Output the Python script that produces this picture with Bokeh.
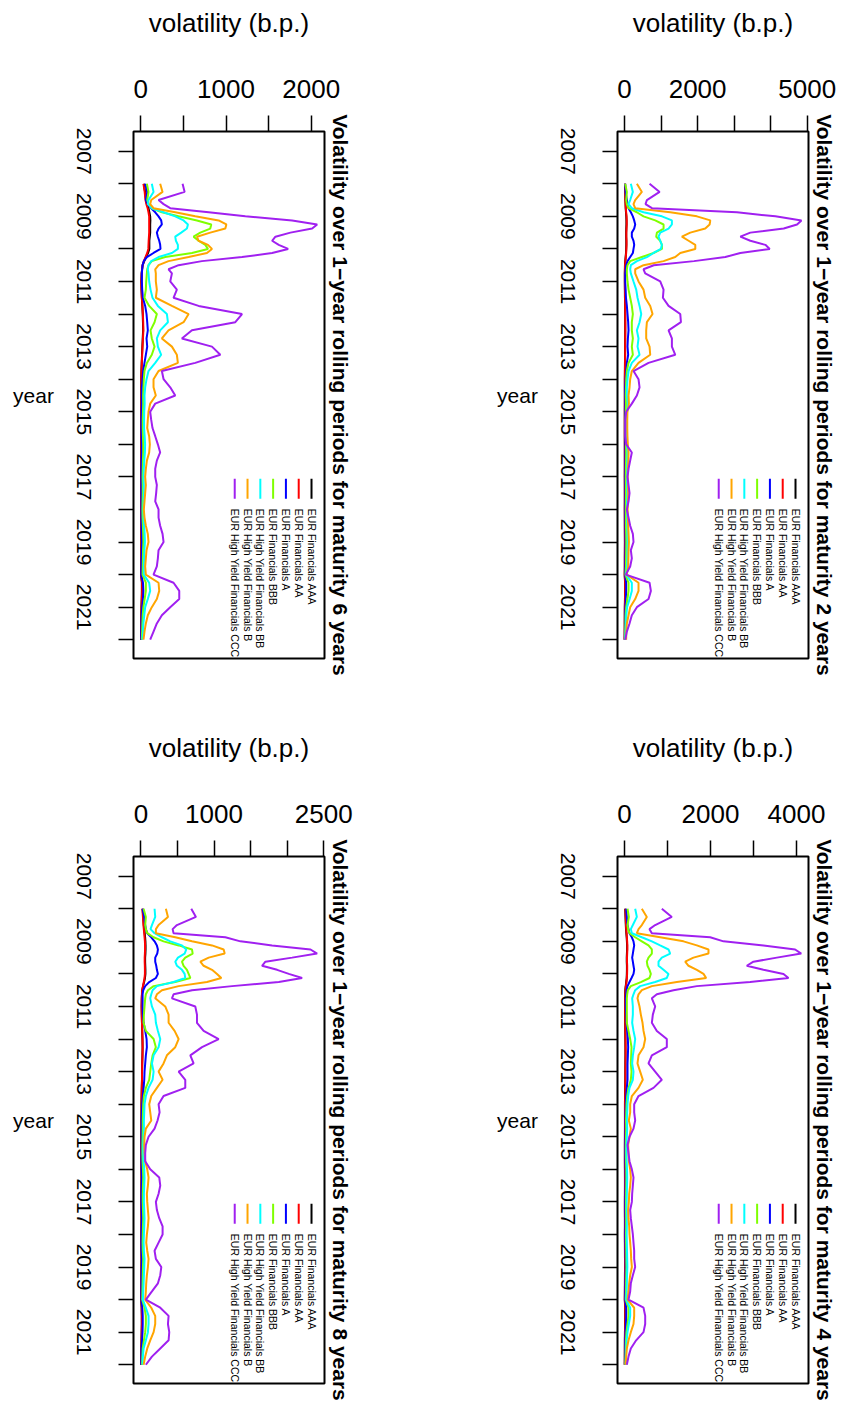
import math
from bokeh.plotting import figure
from bokeh.models import FixedTicker, Range1d
from bokeh.layouts import column, row
from bokeh.embed import file_html
from bokeh.resources import INLINE
from bokeh.core.properties import value

FONT = "Liberation Sans"

series_names = ["EUR Financials AAA", "EUR Financials AA", "EUR Financials A",
                "EUR Financials BBB", "EUR High Yield Financials BB",
                "EUR High Yield Financials B", "EUR High Yield Financials CCC"]
colors = ["#000000", "#FF0000", "#0000FF", "#7FFF00", "#00FFFF", "#FFA500", "#A020F0"]

year_ticks = [2007, 2008, 2009, 2010, 2011, 2012, 2013, 2014, 2015, 2016, 2017, 2018, 2019, 2020, 2021, 2022]
year_labels = ["2007", "", "2009", "", "2011", "", "2013", "", "2015", "", "2017", "", "2019", "", "2021", ""]

dates = [2008.0, 2008.25, 2008.5,
         2008.625, 2008.75, 2008.875, 2009.0, 2009.125, 2009.25, 2009.375, 2009.5, 2009.625,
         2009.75, 2009.875, 2010.0, 2010.125, 2010.25, 2010.375, 2010.5, 2010.625, 2010.75,
         2011.0, 2011.25, 2011.5, 2011.75, 2012.0, 2012.25, 2012.5, 2012.75, 2013.0, 2013.25,
         2013.5, 2013.75, 2014.0, 2014.25, 2014.5,
         2014.75, 2015.0, 2015.25, 2015.5, 2015.75, 2016.0, 2016.25, 2016.5, 2016.75, 2017.0,
         2017.25, 2017.5, 2017.75, 2018.0, 2018.25, 2018.5, 2018.75, 2019.0, 2019.25, 2019.5,
         2019.75, 2020.0, 2020.25, 2020.5, 2020.75, 2021.0, 2021.25, 2021.5, 2021.75, 2022.0]

# ---- maturity 2 years ----
m2_aaa = [12, 18, 22, 28, 32, 40, 48, 52, 52, 48, 45, 45, 48, 48, 45, 40, 30, 20, 12, 10, 8, 8, 10, 12, 15, 17, 18, 18, 17, 15, 15, 12, 10, 8, 8, 8,
          8, 7, 7, 7, 7, 8, 8, 8, 8, 7, 8, 8, 8, 7, 8, 8, 9, 10, 9, 8, 8, 5, 15, 15, 12, 8, 7, 6, 5, 4]
m2_aa = [15, 20, 25, 30, 35, 45, 55, 60, 60, 55, 50, 50, 55, 55, 50, 45, 35, 25, 15, 12, 10, 10, 12, 15, 18, 20, 22, 22, 20, 18, 18, 15, 12, 10, 10, 10,
         10, 9, 8, 8, 8, 9, 10, 10, 9, 8, 9, 10, 9, 8, 9, 10, 11, 12, 11, 10, 9, 6, 18, 18, 15, 10, 8, 7, 6, 5]
m2_a = [18, 30, 64, 82, 110, 173, 228, 265, 292, 265, 200, 200, 246, 265, 246, 228, 155, 82, 46, 30, 20, 18, 30, 40, 64, 82, 100, 110, 92, 82, 100, 64, 46, 30, 20, 20,
        22, 20, 18, 18, 20, 22, 25, 24, 22, 20, 22, 24, 22, 20, 22, 24, 26, 28, 26, 24, 22, 15, 45, 45, 35, 25, 18, 15, 12, 10]
m2_bbb = [18, 64, 46, 64, 110, 338, 520, 840, 1068, 1068, 886, 867, 977, 1023, 1023, 794, 475, 155, 82, 64, 64, 82, 110, 155, 200, 228, 200, 200, 228, 200, 228, 110, 64, 46, 40, 35,
          40, 35, 30, 30, 35, 40, 45, 42, 38, 35, 38, 40, 38, 35, 38, 40, 45, 48, 45, 42, 40, 25, 110, 110, 80, 45, 30, 25, 20, 15]
m2_bb = [173, 228, 155, 110, 200, 520, 1023, 1296, 1296, 1205, 977, 931, 977, 1023, 995, 794, 612, 338, 173, 155, 173, 246, 320, 356, 411, 457, 411, 338, 383, 356, 411, 200, 110, 82, 64, 64,
         90, 70, 60, 60, 65, 70, 80, 75, 70, 65, 70, 75, 70, 65, 70, 75, 80, 85, 80, 75, 70, 45, 200, 200, 140, 70, 50, 40, 30, 25]
m2_b = [338, 475, 292, 246, 292, 1251, 1981, 2346, 2328, 2209, 1799, 1570, 1753, 1936, 1936, 1525, 1388, 1068, 520, 292, 292, 383, 520, 566, 703, 767, 612, 593, 593, 685, 703, 383, 200, 155, 137, 110,
        120, 80, 75, 75, 80, 90, 110, 105, 90, 85, 95, 100, 95, 85, 90, 100, 110, 120, 110, 105, 100, 60, 383, 383, 292, 155, 110, 64, 48, 45]
m2_ccc = [685, 960, 612, 575, 750, 3077, 4127, 4840, 4720, 4355, 3442, 3168, 3442, 3853, 3972, 3168, 2757, 1900, 800, 520, 566, 977, 1068, 1050, 1205, 1525, 1543, 1205, 1296, 1296, 1388, 657, 246, 383, 411, 338,
          200, 46, 20, 20, 20, 46, 200, 155, 110, 82, 110, 137, 110, 64, 110, 155, 228, 246, 173, 200, 155, 36, 685, 721, 657, 338, 200, 137, 64, 20]

# ---- maturity 4 years ----
m4_aaa = [16, 23, 30, 35, 42, 50, 56, 60, 60, 56, 52, 52, 56, 56, 54, 50, 40, 28, 18, 15, 12, 11, 12, 14, 17, 19, 21, 21, 19, 18, 18, 15, 12, 10, 10, 10,
          10, 9, 8, 8, 8, 9, 10, 10, 9, 8, 8, 9, 9, 8, 9, 10, 11, 12, 10, 9, 8, 6, 16, 16, 14, 10, 8, 7, 6, 5]
m4_aa = [20, 28, 35, 40, 48, 55, 62, 66, 66, 62, 58, 58, 62, 62, 60, 55, 45, 32, 22, 18, 15, 14, 15, 17, 20, 23, 25, 25, 23, 21, 21, 18, 15, 13, 12, 12,
         12, 11, 10, 10, 10, 11, 12, 12, 11, 10, 10, 11, 11, 10, 11, 12, 13, 14, 12, 11, 10, 8, 20, 20, 17, 12, 10, 9, 8, 7]
m4_a = [39, 54, 70, 93, 116, 171, 209, 225, 209, 194, 178, 194, 209, 225, 209, 163, 116, 70, 47, 39, 31, 31, 39, 47, 62, 78, 85, 78, 70, 70, 70, 54, 39, 31, 23, 23,
        23, 21, 19, 19, 21, 23, 25, 23, 21, 19, 19, 21, 21, 19, 21, 23, 25, 27, 23, 21, 19, 14, 40, 40, 33, 23, 18, 15, 12, 10]
m4_bbb = [70, 101, 70, 85, 116, 248, 403, 558, 636, 636, 558, 519, 535, 581, 612, 581, 380, 147, 78, 62, 54, 54, 54, 54, 93, 132, 163, 155, 147, 163, 147, 93, 62, 47, 40, 35,
          38, 35, 31, 31, 35, 40, 42, 40, 37, 35, 35, 37, 37, 35, 37, 40, 42, 45, 40, 37, 35, 28, 93, 93, 70, 45, 33, 28, 24, 20]
m4_bb = [248, 287, 194, 147, 171, 403, 636, 829, 1023, 1062, 868, 791, 791, 907, 1023, 984, 713, 364, 248, 209, 178, 194, 194, 178, 209, 248, 225, 194, 178, 209, 194, 116, 85, 70, 62, 54,
         62, 54, 47, 47, 50, 58, 62, 58, 54, 50, 50, 54, 54, 50, 54, 58, 62, 66, 58, 54, 50, 40, 132, 132, 101, 70, 50, 40, 33, 28]
m4_b = [403, 519, 403, 326, 287, 829, 1372, 1682, 1953, 1953, 1604, 1411, 1488, 1682, 1837, 1899, 1217, 636, 403, 326, 302, 349, 380, 419, 442, 481, 442, 326, 302, 364, 426, 326, 171, 132, 132, 101,
        147, 116, 85, 93, 101, 132, 147, 132, 109, 101, 85, 93, 109, 116, 132, 147, 155, 171, 132, 109, 93, 70, 225, 225, 209, 147, 93, 54, 39, 23]
m4_ccc = [868, 1100, 713, 581, 636, 1992, 2302, 3232, 3968, 4110, 3542, 2999, 2844, 3232, 3697, 3813, 2922, 1682, 1139, 752, 636, 713, 659, 636, 752, 984, 984, 636, 558, 713, 868, 674, 326, 225, 225, 248,
          209, 116, 70, 93, 116, 171, 209, 194, 178, 171, 132, 147, 171, 194, 209, 225, 225, 248, 194, 147, 132, 93, 442, 481, 481, 442, 271, 147, 93, 54]

# ---- maturity 6 years ----
m6_aaa = [35, 50, 60, 72, 90, 100, 110, 112, 110, 110, 110, 105, 100, 100, 100, 85, 60, 40, 22, 15, 10, 6, 8, 12, 18, 22, 25, 27, 22, 18, 14, 10, 7, 5, 5, 5,
          5, 4, 4, 4, 4, 5, 5, 5, 4, 4, 4, 4, 4, 4, 4, 5, 5, 6, 5, 5, 4, 3, 12, 12, 10, 7, 5, 4, 3, 3]
m6_aa = [31, 45, 55, 65, 80, 90, 98, 98, 98, 98, 98, 95, 92, 90, 88, 75, 55, 35, 20, 14, 10, 5, 8, 12, 18, 24, 28, 30, 25, 20, 16, 12, 8, 5, 5, 5,
         5, 4, 4, 4, 4, 5, 5, 5, 4, 4, 4, 4, 4, 4, 4, 5, 5, 6, 5, 5, 4, 3, 15, 15, 12, 8, 5, 4, 3, 3]
m6_a = [51, 75, 59, 82, 122, 169, 208, 239, 247, 208, 188, 200, 216, 227, 231, 149, 71, 35, 20, 16, 12, 12, 16, 24, 51, 67, 75, 82, 67, 75, 59, 43, 27, 20, 12, 12,
        12, 10, 8, 8, 10, 12, 12, 10, 8, 8, 8, 8, 8, 7, 8, 10, 12, 14, 12, 10, 8, 6, 25, 30, 25, 16, 10, 8, 6, 5]
m6_bbb = [71, 90, 75, 90, 129, 247, 443, 659, 827, 815, 698, 619, 678, 757, 788, 600, 286, 129, 90, 75, 71, 63, 59, 43, 98, 188, 161, 114, 129, 161, 129, 71, 43, 35, 31, 27,
          28, 25, 22, 22, 25, 28, 28, 24, 22, 20, 22, 22, 20, 18, 20, 24, 28, 30, 26, 24, 22, 20, 59, 59, 45, 30, 22, 18, 15, 12]
m6_bb = [129, 149, 90, 82, 129, 267, 404, 502, 553, 541, 474, 404, 412, 435, 435, 365, 208, 122, 90, 82, 90, 98, 114, 137, 200, 306, 318, 227, 188, 200, 239, 169, 90, 67, 51, 43,
         45, 40, 38, 38, 45, 50, 48, 40, 35, 32, 35, 35, 32, 30, 32, 38, 45, 48, 42, 38, 35, 35, 98, 110, 82, 51, 40, 30, 25, 20]
m6_b = [227, 255, 122, 110, 149, 404, 639, 913, 1004, 992, 815, 659, 678, 788, 835, 776, 561, 325, 208, 169, 176, 176, 188, 176, 365, 561, 502, 325, 247, 365, 423, 435, 208, 149, 149, 176,
        110, 90, 82, 75, 98, 106, 98, 71, 59, 51, 59, 51, 43, 35, 43, 59, 82, 90, 67, 59, 51, 59, 208, 216, 188, 129, 82, 59, 43, 31]
m6_ccc = [490, 514, 208, 267, 345, 796, 1227, 1776, 2070, 2011, 1756, 1580, 1541, 1619, 1729, 1541, 1188, 717, 443, 325, 365, 345, 423, 384, 678, 1188, 1109, 600, 482, 835, 933, 639, 247, 267, 345, 404,
          169, 110, 122, 137, 169, 200, 227, 188, 169, 169, 188, 180, 169, 208, 208, 227, 255, 267, 208, 200, 188, 149, 384, 451, 451, 345, 247, 188, 149, 110]

# ---- maturity 8 years ----
m8_aaa = [24, 32, 40, 46, 52, 58, 62, 64, 64, 62, 58, 58, 60, 62, 62, 56, 44, 30, 19, 15, 12, 10, 12, 15, 18, 21, 23, 21, 18, 16, 15, 12, 10, 8, 8, 7,
          7, 6, 6, 6, 6, 7, 8, 7, 6, 6, 7, 8, 7, 6, 6, 7, 8, 7, 6, 6, 5, 4, 10, 12, 12, 10, 8, 6, 5, 4]
m8_aa = [20, 28, 35, 40, 45, 50, 55, 57, 57, 55, 52, 52, 54, 55, 55, 50, 40, 28, 18, 14, 12, 10, 12, 15, 18, 22, 24, 22, 18, 16, 15, 12, 10, 8, 8, 7,
         7, 6, 6, 6, 6, 7, 8, 7, 6, 6, 7, 8, 7, 6, 6, 7, 8, 7, 6, 6, 5, 4, 12, 14, 14, 12, 9, 6, 5, 4]
m8_a = [23, 46, 59, 68, 87, 142, 187, 219, 233, 224, 196, 196, 210, 219, 233, 205, 114, 59, 32, 23, 23, 23, 27, 37, 59, 78, 82, 68, 59, 50, 46, 37, 27, 18, 14, 12,
        12, 10, 9, 9, 10, 12, 14, 12, 10, 10, 12, 14, 12, 10, 9, 10, 14, 12, 10, 9, 8, 7, 20, 25, 25, 22, 16, 10, 8, 6]
m8_bbb = [37, 68, 59, 68, 87, 174, 310, 516, 699, 708, 607, 562, 584, 630, 653, 676, 470, 174, 96, 68, 59, 50, 41, 37, 68, 174, 205, 160, 142, 128, 114, 68, 41, 32, 28, 25,
          25, 23, 20, 20, 23, 28, 32, 28, 25, 25, 28, 32, 28, 25, 23, 25, 32, 28, 25, 23, 20, 18, 50, 68, 68, 59, 41, 25, 20, 16]
m8_bb = [187, 196, 151, 132, 187, 288, 402, 562, 621, 598, 507, 470, 493, 562, 598, 607, 447, 219, 160, 142, 128, 151, 196, 205, 233, 265, 242, 174, 151, 174, 160, 105, 68, 50, 46, 41,
         41, 37, 32, 32, 37, 46, 50, 46, 41, 41, 46, 50, 46, 41, 37, 41, 50, 46, 41, 37, 32, 27, 68, 105, 105, 96, 68, 37, 27, 23]
m8_b = [342, 370, 242, 205, 205, 470, 699, 973, 1132, 1146, 927, 813, 858, 973, 1041, 1100, 904, 516, 288, 219, 196, 333, 379, 379, 461, 516, 470, 356, 310, 242, 297, 219, 142, 114, 128, 142,
        68, 50, 46, 50, 59, 87, 105, 96, 82, 87, 96, 105, 96, 82, 73, 87, 105, 96, 82, 73, 68, 59, 142, 196, 196, 174, 128, 87, 59, 37]
m8_ccc = [689, 753, 493, 434, 447, 1155, 1361, 1794, 2320, 2410, 2068, 1703, 1657, 1863, 2023, 2205, 1886, 1247, 699, 447, 425, 744, 767, 767, 858, 1064, 836, 676, 721, 516, 607, 607, 310, 242, 256, 228,
          187, 105, 68, 59, 59, 128, 251, 265, 242, 205, 219, 251, 297, 297, 242, 187, 205, 279, 265, 233, 151, 68, 265, 379, 370, 388, 379, 265, 151, 68]

# volatility axis ticks / labels per panel
m2_ticks = [0, 1000, 2000, 3000, 4000, 5000]
m2_tick_labels = ["0", "", "2000", "", "", "5000"]
m4_ticks = [0, 1000, 2000, 3000, 4000]
m4_tick_labels = ["0", "", "2000", "", "4000"]
m6_ticks = [0, 500, 1000, 1500, 2000]
m6_tick_labels = ["0", "", "1000", "", "2000"]
m8_ticks = [0, 500, 1000, 1500, 2000, 2500]
m8_tick_labels = ["0", "", "1000", "", "", "2500"]

YEAR_TOP = 2006.395
YEAR_BOTTOM = 2022.576
FRAME_W = 191  # plot-area width in pixels (figure width minus borders)


def make_panel(maturity, series, xr, ticks, tick_labels, width, height, bl, br, bt, bb):
    title = "Volatility over 1\u2212year rolling periods for maturity %d years" % maturity
    p = figure(width=width, height=height, output_backend="svg", toolbar_location=None,
               x_range=Range1d(xr[0], xr[1]), y_range=Range1d(YEAR_BOTTOM, YEAR_TOP),
               x_axis_location="above", title=title, title_location="right",
               min_border_left=bl, min_border_right=br, min_border_top=bt, min_border_bottom=bb)
    p.background_fill_color = "white"
    p.border_fill_color = "white"
    p.outline_line_color = "black"
    p.outline_line_width = 2
    p.xgrid.visible = False
    p.ygrid.visible = False

    p.title.text_font = FONT
    p.title.text_font_size = "21px"
    p.title.text_font_style = "bold"
    p.title.text_color = "black"
    p.title.align = "center"
    p.title.standoff = 9

    xa = p.xaxis[0]
    xa.ticker = FixedTicker(ticks=ticks)
    xa.major_label_overrides = {t: l for t, l in zip(ticks, tick_labels)}
    xa.axis_label = "volatility (b.p.)"
    xa.axis_label_text_font = FONT
    xa.axis_label_text_font_size = "26px"
    xa.axis_label_text_font_style = "normal"
    xa.axis_label_text_color = "black"
    xa.axis_label_standoff = 39
    xa.major_label_text_font = FONT
    xa.major_label_text_font_size = "26px"
    xa.major_label_text_color = "black"
    xa.major_label_standoff = 18
    xa.major_tick_out = 16
    xa.major_tick_in = 0
    xa.major_tick_line_width = 1.5
    xa.major_tick_line_color = "black"
    xa.minor_tick_line_color = None
    xa.axis_line_color = None

    # year axis: tick marks (labels drawn below, rotated and centred on the ticks)
    ya = p.yaxis[0]
    ya.ticker = FixedTicker(ticks=year_ticks)
    ya.major_label_overrides = {t: "" for t in year_ticks}
    ya.major_label_text_font_size = "0px"
    ya.major_label_standoff = 0
    ya.major_tick_out = 15
    ya.major_tick_in = 0
    ya.major_tick_line_width = 1.5
    ya.major_tick_line_color = "black"
    ya.minor_tick_line_color = None
    ya.axis_line_color = None

    def x_left_of_frame(px):
        return xr[0] - px / FRAME_W * (xr[1] - xr[0])

    lab_y = [t for t, l in zip(year_ticks, year_labels) if l]
    lab_t = [l for l in year_labels if l]
    p.text(x=[x_left_of_frame(50)] * len(lab_y), y=lab_y, text=lab_t, angle=-math.pi / 2,
           text_align="center", text_baseline="middle", text_font=value(FONT),
           text_font_size="21px", text_color="black", level="overlay")
    p.text(x=[x_left_of_frame(100)], y=[(YEAR_TOP + YEAR_BOTTOM) / 2], text=["year"],
           text_align="center", text_baseline="middle", text_font=value(FONT),
           text_font_size="21px", text_color="black", level="overlay")

    for vals, col in zip(series, colors):
        p.line(x=vals, y=dates, line_color=col, line_width=2)

    # legend (no box), rotated like the rest of the chart
    def xat(f):
        return xr[0] + f * (xr[1] - xr[0])

    def yat(f):
        return YEAR_TOP + f * (YEAR_BOTTOM - YEAR_TOP)

    lx = [xat(0.932 - i * 0.067) for i in range(len(series_names))]
    p.segment(x0=lx, y0=[yat(0.659)] * len(lx), x1=lx, y1=[yat(0.697)] * len(lx),
              line_color=colors, line_width=2)
    p.text(x=lx, y=[yat(0.716)] * len(lx), text=series_names, angle=-math.pi / 2,
           text_align="left", text_baseline="middle", text_font=value(FONT),
           text_font_size="10.5px", text_color="black")
    return p


p6 = make_panel(6, [m6_aaa, m6_aa, m6_a, m6_bbb, m6_bb, m6_b, m6_ccc], (-86, 2156),
                m6_ticks, m6_tick_labels, 423, 725, 133, 99, 131, 67)
p2 = make_panel(2, [m2_aaa, m2_aa, m2_a, m2_bbb, m2_bb, m2_b, m2_ccc], (-192, 5033),
                m2_ticks, m2_tick_labels, 424, 725, 194, 39, 131, 67)
p8 = make_panel(8, [m8_aaa, m8_aa, m8_a, m8_bbb, m8_bb, m8_b, m8_ccc], (-101, 2511),
                m8_ticks, m8_tick_labels, 423, 684, 133, 99, 131, 26)
p4 = make_panel(4, [m4_aaa, m4_aa, m4_a, m4_bbb, m4_bb, m4_b, m4_ccc], (-163, 4279),
                m4_ticks, m4_tick_labels, 424, 684, 194, 39, 131, 26)

layout = column(row(p6, p2), row(p8, p4))
open("out.html", "w").write(file_html(layout, INLINE))
